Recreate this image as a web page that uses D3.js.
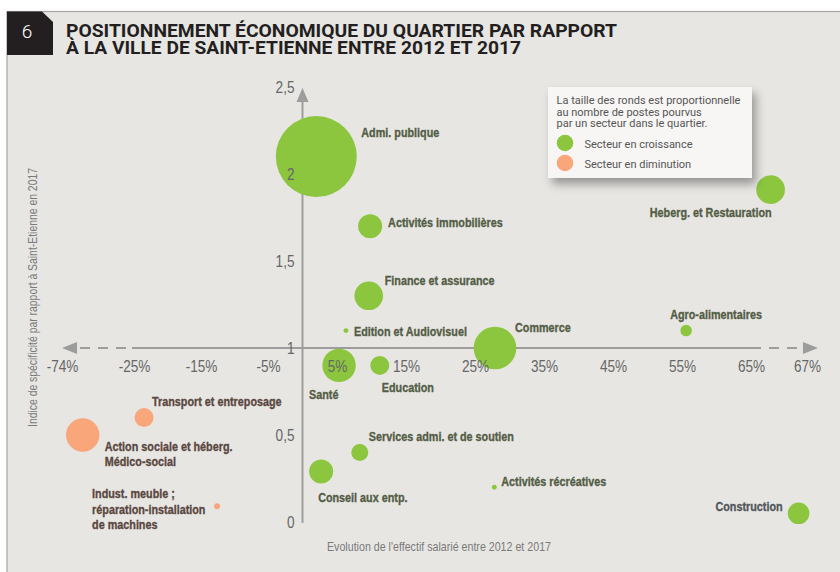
<!DOCTYPE html>
<html>
<head>
<meta charset="utf-8">
<script src="https://cdn.jsdelivr.net/npm/d3@7"></script>
<style>
  body { margin: 0; background: #fff; }
  svg { display: block; }
</style>
</head>
<body>
<div id="chart-area"></div>
<script>
const WIDTH = 840;
const HEIGHT = 572;

// secteurs, évolution de l'effectif (%), indice de spécificité, nombre de postes
const sectors = [
    "Admi. publique", "Activités immobilières", "Finance et assurance",
    "Edition et Audiovisuel", "Commerce", "Agro-alimentaires",
    "Heberg. et Restauration", "Santé", "Education",
    "Services admi. et de soutien", "Conseil aux entp.", "Activités récréatives",
    "Construction", "Transport et entreposage",
    "Action sociale et héberg.\nMédico-social",
    "Indust. meuble ;\nréparation-installation\nde machines"
];
const growth = [2.0, 9.8, 9.6, 6.3, 27.9, 55.6, 65.7, 5.3, 11.2, 8.3, 2.7, 27.8, 66.7, -23.5, -59.9, -12.6];
const specIndex = [2.10, 1.70, 1.30, 1.10, 1.00, 1.10, 1.91, 0.90, 0.90, 0.40, 0.29, 0.20, 0.05, 0.60, 0.50, 0.09];
const jobs = [1640, 144, 205, 6, 454, 33, 205, 279, 90, 72, 144, 6, 117, 90, 279, 9];
const trend = ["up", "up", "up", "up", "up", "up", "up", "up", "up", "up", "up", "up", "up", "down", "down", "down"];

const xTicks = [-74, -25, -15, -5, 5, 15, 25, 35, 45, 55, 65, 67];
const yTicks = [0, 0.5, 1, 1.5, 2, 2.5];

// placement des étiquettes par rapport au rond : dx, dy, ancrage
const labelPos = [
    [45, -20, "start"], [18, 1, "start"], [16, -11, "start"], [8, 5, "start"],
    [20, -16, "start"], [-16, -12, "start"], [1, 27, "end"], [-30, 34, "start"],
    [2, 27, "start"], [9, -11, "start"], [-3, 30, "start"], [7, -1, "start"],
    [-16, -2, "end"], [8, -12, "start"], [22, 16, "start"], [-125, -8, "start"]
];

const COLORS = { up: "#8cc63f", down: "#f8a67a" };
const TEXT = { up: "#535d45", down: "#5a4740" };
const NARROW = 0.8;   // police condensée simulée
const TICK_NARROW = 0.85;

const data = sectors.map((s, i) => ({
    name: s, x: growth[i], y: specIndex[i], n: jobs[i], trend: trend[i],
    dx: labelPos[i][0], dy: labelPos[i][1], anchor: labelPos[i][2]
}));

const svg = d3.select("#chart-area").append("svg")
    .attr("width", WIDTH)
    .attr("height", HEIGHT);

const defs = svg.append("defs");
defs.append("filter").attr("id", "shadow")
    .attr("x", "-20%").attr("y", "-20%").attr("width", "150%").attr("height", "160%")
    .append("feDropShadow")
    .attr("dx", 4).attr("dy", 6).attr("stdDeviation", 5)
    .attr("flood-color", "#000").attr("flood-opacity", 0.35);

// fond du cadre
svg.append("rect")
    .attr("x", 7).attr("y", 11.5)
    .attr("width", WIDTH).attr("height", HEIGHT)
    .attr("fill", "#e7e6e3")
    .attr("stroke", "#a3a3a3").attr("stroke-width", 1.2);

svg.append("path")
    .attr("d", "M7,11.5H42L53,22V55H7Z")
    .attr("fill", "#231f20");
svg.append("text")
    .attr("x", 27).attr("y", 38)
    .attr("text-anchor", "middle")
    .attr("font-family", "Roboto").attr("font-weight", 300)
    .attr("font-size", 19).attr("fill", "#fff")
    .text("6");

const title = svg.append("g")
    .attr("font-family", "Roboto").attr("font-weight", 700)
    .attr("font-size", 18.5).attr("fill", "#231f20");
title.append("text").attr("x", 66).attr("y", 36.5)
    .attr("textLength", 551).attr("lengthAdjust", "spacingAndGlyphs")
    .text("POSITIONNEMENT ÉCONOMIQUE DU QUARTIER PAR RAPPORT");
title.append("text").attr("x", 66).attr("y", 54)
    .attr("textLength", 455).attr("lengthAdjust", "spacingAndGlyphs")
    .text("À LA VILLE DE SAINT-ETIENNE ENTRE 2012 ET 2017");

// échelles (axe horizontal coupé aux extrémités)
const x = d3.scaleLinear()
    .domain([-74, -25, -5, 5, 65, 67])
    .range([62, 134, 268, 337, 751, 807]);

const y = d3.scaleLinear()
    .domain([0, 2.5])
    .range([522, 87]);

const r = d3.scaleSqrt()
    .domain([0, d3.max(data, d => d.n)])
    .range([0, 40.5]);

const AXIS = "#9d9d9d";
const x0 = x(0), y1 = y(1);

const axes = svg.append("g").attr("stroke", AXIS).attr("stroke-width", 2).attr("fill", "none");
axes.append("line").attr("x1", x0).attr("x2", x0).attr("y1", y(2.5) + 13).attr("y2", y(0) + 1);
axes.append("line").attr("x1", x(-25) - 2).attr("x2", x(65)).attr("y1", y1).attr("y2", y1);
axes.append("line").attr("x1", 80).attr("x2", x(-25) - 2).attr("y1", y1).attr("y2", y1)
    .attr("stroke-dasharray", "10,8");
axes.append("line").attr("x1", x(65)).attr("x2", 803).attr("y1", y1).attr("y2", y1)
    .attr("stroke-dasharray", "10,8");

const arrows = svg.append("g").attr("fill", AXIS);
arrows.append("path").attr("d", `M${x0},${y(2.5) + 1}l6,14h-12z`);
arrows.append("path").attr("d", `M62,${y1}l15,-6v12z`);
arrows.append("path").attr("d", `M818,${y1}l-15,-6v12z`);

// ronds
svg.append("g").selectAll("circle")
    .data(data)
    .enter().append("circle")
    .attr("cx", d => x(d.x))
    .attr("cy", d => y(d.y))
    .attr("r", d => r(d.n))
    .attr("fill", d => COLORS[d.trend]);

// graduations
const xAxisCall = d3.axisBottom(x)
    .tickValues(xTicks)
    .tickSize(0)
    .tickFormat(d => d + "%");

const xAxis = svg.append("g")
    .attr("transform", `translate(0, ${y1})`)
    .call(xAxisCall);
xAxis.select(".domain").remove();
xAxis.selectAll("text")
    .attr("y", 24).attr("dy", 0)
    .attr("transform", `scale(${TICK_NARROW},1)`)
    .attr("font-family", "Liberation Sans")
    .attr("font-size", 16).attr("fill", "#666");

const yAxisCall = d3.axisLeft(y)
    .tickValues(yTicks)
    .tickSize(0)
    .tickFormat(d => String(d).replace(".", ","));

const yAxis = svg.append("g")
    .attr("transform", `translate(${x0}, 0)`)
    .call(yAxisCall);
yAxis.select(".domain").remove();
yAxis.selectAll("text")
    .attr("x", -8 / TICK_NARROW)
    .attr("dy", "0.36em")
    .attr("transform", `scale(${TICK_NARROW},1)`)
    .attr("font-family", "Liberation Sans")
    .attr("font-size", 16).attr("fill", "#666");

// titres des axes
svg.append("text")
    .attr("x", 439).attr("y", 550.5)
    .attr("text-anchor", "middle")
    .attr("font-family", "Liberation Sans").attr("font-size", 13.5)
    .attr("fill", "#7a7a7a")
    .attr("textLength", 224).attr("lengthAdjust", "spacingAndGlyphs")
    .text("Evolution de l'effectif salarié entre 2012 et 2017");

svg.append("text")
    .attr("transform", "translate(37, 297.5) rotate(-90)")
    .attr("text-anchor", "middle")
    .attr("font-family", "Liberation Sans").attr("font-size", 12.5)
    .attr("fill", "#7a7a7a")
    .attr("textLength", 259).attr("lengthAdjust", "spacingAndGlyphs")
    .text("Indice de spécificité par rapport à Saint-Etienne en 2017");

// étiquettes des secteurs
const labels = svg.append("g").selectAll("g")
    .data(data)
    .enter().append("g")
    .attr("transform", d => `translate(${x(d.x) + d.dx}, ${y(d.y) + d.dy}) scale(${NARROW},1)`)
    .append("text")
    .attr("text-anchor", d => d.anchor)
    .attr("font-family", "Liberation Sans")
    .attr("font-weight", 700)
    .attr("font-size", 13.5)
    .attr("fill", d => d.name === "Construction" ? "#52565a" : TEXT[d.trend])
    .attr("stroke", d => d.name === "Construction" ? "#52565a" : TEXT[d.trend])
    .attr("stroke-width", 0.35);

labels.each(function(d) {
    const t = d3.select(this);
    d.name.split("\n").forEach((line, i) => {
        t.append("tspan")
            .attr("x", 0)
            .attr("dy", i === 0 ? 0 : 15.5)
            .text(line);
    });
});

// légende
const legend = svg.append("g").attr("transform", "translate(548, 87)");
legend.append("rect")
    .attr("width", 204).attr("height", 91)
    .attr("fill", "#f7f6f4")
    .attr("filter", "url(#shadow)");

const legendText = [
    "La taille des ronds est proportionnelle",
    "au nombre de postes pourvus",
    "par un secteur dans le quartier."
];
legend.selectAll(".note")
    .data(legendText)
    .enter().append("text")
    .attr("class", "note")
    .attr("x", 8.5)
    .attr("y", (d, i) => 17 + i * 11.5)
    .attr("font-family", "Roboto").attr("font-size", 11)
    .attr("fill", "#555")
    .text(d => d);

const legendItems = [
    { key: "up", label: "Secteur en croissance" },
    { key: "down", label: "Secteur en diminution" }
];
const item = legend.selectAll(".item")
    .data(legendItems)
    .enter().append("g")
    .attr("class", "item")
    .attr("transform", (d, i) => `translate(0, ${56 + i * 20})`);
item.append("circle")
    .attr("cx", 17).attr("r", 8.3)
    .attr("fill", d => COLORS[d.key]);
item.append("text")
    .attr("x", 36.5).attr("y", 4.5)
    .attr("font-family", "Roboto").attr("font-size", 11)
    .attr("fill", "#555")
    .text(d => d.label);
</script>
</body>
</html>
